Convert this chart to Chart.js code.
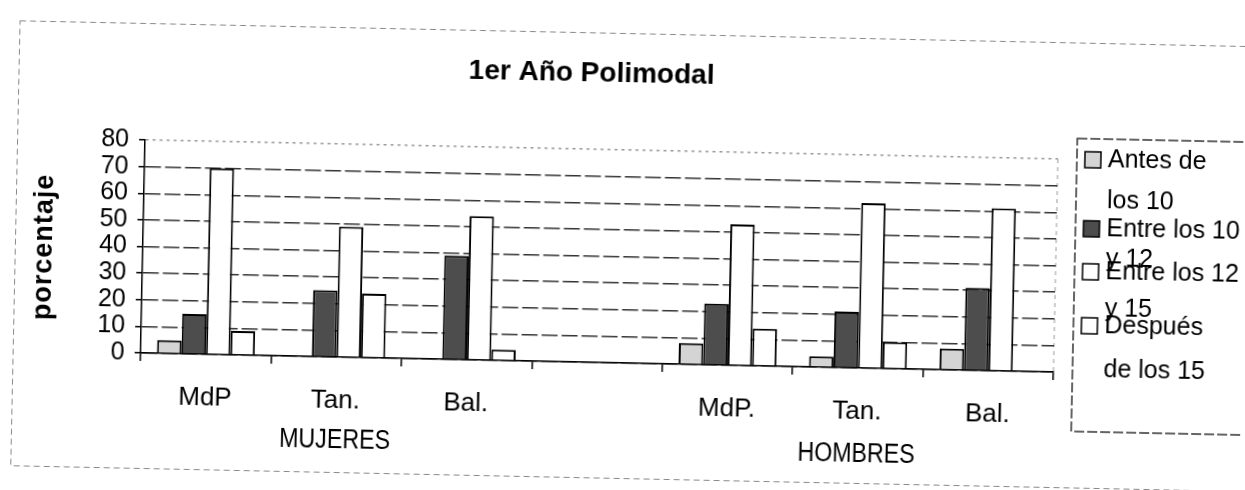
<!DOCTYPE html>
<html>
<head>
<meta charset="utf-8">
<script src="https://cdn.jsdelivr.net/npm/chart.js@4.4.0/dist/chart.umd.min.js"></script>
<style>
  html, body { margin: 0; padding: 0; background: #fff; overflow: hidden; }
  /* the scanned original is tilted by about one degree */
  #wrap { width: 1245px; height: 490px; transform: rotate(1.2deg); }
</style>
</head>
<body>
<div id="wrap"><canvas id="chart" width="1245" height="490"></canvas></div>
<script>
"use strict";

const categories = ["MdP", "Tan.", "Bal.", "", "MdP.", "Tan.", "Bal."];
const groups = ["MUJERES", "HOMBRES"];
const seriesNames = [["Antes de", "los 10"], ["Entre los 10", "y 12"], ["Entre los 12", "y 15"], ["Después", "de los 15"]];
const antesDe10 = [5, 0, 0, null, 8, 4, 8];
const entre10y12 = [15, 25, 39, null, 23, 21, 31];
const entre12y15 = [70, 49, 54, null, 53, 62, 61];
const despuesDe15 = [9, 24, 4, null, 14, 10, 0];
const yTickValues = [0, 10, 20, 30, 40, 50, 60, 70, 80];

const seriesColors = ["#d4d4d4", "#4d4d4d", "#ffffff", "#ffffff"];

Chart.defaults.font.family = "'Liberation Sans', Arial, sans-serif";
Chart.defaults.color = "#000";

// title, axis title, group labels, legend and frames
const decor = {
    id: "decor",
    beforeDraw(chart) {
        const ctx = chart.ctx;
        const a = chart.chartArea;
        ctx.save();
        ctx.fillStyle = "#fff";
        ctx.fillRect(0, 0, chart.width, chart.height);
        ctx.strokeStyle = "#888";
        ctx.lineWidth = 1;
        ctx.setLineDash([6, 4]);
        ctx.strokeRect(15.5, 33.5, 1262, 445);
        ctx.strokeStyle = "#999";
        ctx.setLineDash([4, 4]);
        ctx.beginPath();
        ctx.moveTo(a.right, a.top);
        ctx.lineTo(a.right, a.bottom);
        ctx.stroke();
        ctx.restore();
    },
    afterDraw(chart) {
        const ctx = chart.ctx;
        const x = chart.scales.x;
        ctx.save();
        ctx.fillStyle = "#000";
        ctx.textAlign = "center";
        ctx.textBaseline = "middle";

        ctx.font = "bold 28px 'Liberation Sans'";
        ctx.fillText("1er Año Polimodal", 588, 74);

        ctx.save();
        ctx.translate(45, 259);
        ctx.rotate(-Math.PI / 2);
        ctx.font = "bold 27px 'Liberation Sans'";
        ctx.letterSpacing = "1px";
        ctx.fillText("porcentaje", 0, 0);
        ctx.restore();

        // group labels, squeezed like the original
        ctx.font = "27px 'Liberation Sans'";
        [[1, 447], [5, 450]].forEach(([idx, y], g) => {
            ctx.save();
            ctx.translate(x.getPixelForValue(idx), y);
            ctx.scale(0.86, 1);
            ctx.fillText(groups[g], 0, 0);
            ctx.restore();
        });

        // legend
        ctx.strokeStyle = "#333";
        ctx.lineWidth = 1.5;
        ctx.setLineDash([10, 3]);
        ctx.strokeRect(1075, 129, 185, 293);
        ctx.setLineDash([]);
        const lineY = [[150, 191], [219, 249], [262, 299], [316, 360]];
        ctx.textAlign = "left";
        ctx.font = "25px 'Liberation Sans'";
        chart.data.datasets.forEach((ds, i) => {
            ctx.fillStyle = ds.backgroundColor;
            ctx.fillRect(1083, lineY[i][0] - 8, 16, 16);
            ctx.strokeStyle = "#000";
            ctx.strokeRect(1083, lineY[i][0] - 8, 16, 16);
            ctx.fillStyle = "#000";
            seriesNames[i].forEach((t, j) => ctx.fillText(t, 1106, lineY[i][j]));
        });
        ctx.restore();
    }
};

const values = [antesDe10, entre10y12, entre12y15, despuesDe15];

new Chart(document.getElementById("chart"), {
    type: "bar",
    data: {
        labels: categories,
        datasets: values.map((v, i) => ({
            label: seriesNames[i].join(" "),
            data: v,
            backgroundColor: seriesColors[i],
            borderColor: "#000",
            borderWidth: 2
        }))
    },
    options: {
        responsive: false,
        animation: false,
        devicePixelRatio: 1,
        layout: { padding: { left: 0, top: 150, right: 189, bottom: 0 } },
        plugins: {
            legend: { display: false },
            title: { display: false },
            tooltip: { enabled: false }
        },
        datasets: { bar: { categoryPercentage: 0.75, barPercentage: 1 } },
        scales: {
            x: {
                grid: { offset: true, drawOnChartArea: false, tickLength: 8, color: "#000", lineWidth: 1.5 },
                border: { color: "#000", width: 1.5 },
                ticks: { autoSkip: false, maxRotation: 0, padding: 20, font: { size: 26 } },
                afterFit: s => { s.height = 127; }
            },
            y: {
                min: 0,
                max: 80,
                afterBuildTicks: s => { s.ticks = yTickValues.map(v => ({ value: v })); },
                grid: {
                    color: c => c.tick && c.tick.value === 80 ? "#999" : "rgba(0,0,0,0.8)",
                    lineWidth: 1.5,
                    tickLength: 6,
                    tickColor: "#000"
                },
                border: { color: "#000", width: 1.5, dash: c => c.tick && c.tick.value === 80 ? [3, 4] : [16, 4] },
                ticks: { autoSkip: false, padding: 10, font: { size: 25, lineHeight: 1 } },
                afterFit: s => { s.width = 143; }
            }
        }
    },
    plugins: [decor]
});
</script>
</body>
</html>
